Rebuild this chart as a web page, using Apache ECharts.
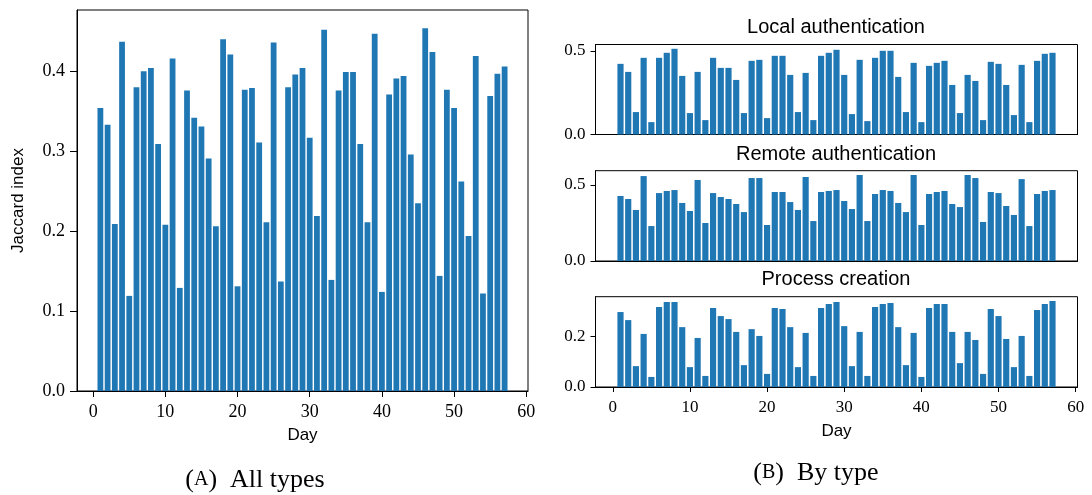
<!DOCTYPE html>
<html>
<head>
<meta charset="utf-8">
<script src="https://cdn.jsdelivr.net/npm/echarts@6/dist/echarts.min.js"></script>
<style>
    html, body {margin: 0; padding: 0; background: #fff;}
    #chart {width: 1092px; height: 495px;}
</style>
</head>
<body>
<div id="chart"></div>
<script>
'use strict';

// 天数
let days = [1, 2, 3, 4, 5, 6, 7, 8, 9, 10, 11, 12, 13, 14, 15, 16, 17, 18, 19, 20,
    21, 22, 23, 24, 25, 26, 27, 28, 29, 30, 31, 32, 33, 34, 35, 36, 37, 38, 39, 40,
    41, 42, 43, 44, 45, 46, 47, 48, 49, 50, 51, 52, 53, 54, 55, 56, 57];

// (A) 全部类型
let allTypes = [0.354, 0.333, 0.209, 0.437, 0.119, 0.380, 0.400, 0.404, 0.309, 0.208,
    0.416, 0.129, 0.376, 0.342, 0.331, 0.291, 0.206, 0.440, 0.421, 0.131,
    0.377, 0.379, 0.311, 0.211, 0.436, 0.137, 0.380, 0.396, 0.404, 0.317,
    0.219, 0.452, 0.139, 0.376, 0.399, 0.399, 0.309, 0.211, 0.447, 0.124,
    0.371, 0.391, 0.394, 0.296, 0.235, 0.454, 0.424, 0.144, 0.377, 0.354,
    0.262, 0.194, 0.419, 0.122, 0.369, 0.397, 0.406];

// (B) 分类型
let localAuth = [0.422, 0.374, 0.134, 0.458, 0.074, 0.458, 0.488, 0.512, 0.350, 0.128,
    0.374, 0.086, 0.458, 0.398, 0.398, 0.326, 0.128, 0.440, 0.446, 0.098,
    0.470, 0.470, 0.356, 0.134, 0.368, 0.086, 0.470, 0.488, 0.506, 0.356,
    0.122, 0.446, 0.080, 0.458, 0.500, 0.500, 0.344, 0.134, 0.428, 0.074,
    0.410, 0.428, 0.440, 0.296, 0.128, 0.356, 0.320, 0.086, 0.434, 0.422,
    0.296, 0.116, 0.416, 0.074, 0.440, 0.482, 0.488];

let remoteAuth = [0.428, 0.408, 0.336, 0.559, 0.230, 0.447, 0.461, 0.467, 0.382, 0.329,
    0.533, 0.250, 0.447, 0.421, 0.408, 0.375, 0.322, 0.546, 0.546, 0.237,
    0.454, 0.454, 0.388, 0.336, 0.553, 0.263, 0.454, 0.461, 0.467, 0.395,
    0.342, 0.566, 0.263, 0.441, 0.467, 0.461, 0.382, 0.322, 0.566, 0.237,
    0.441, 0.454, 0.461, 0.375, 0.355, 0.566, 0.546, 0.257, 0.454, 0.447,
    0.362, 0.303, 0.539, 0.230, 0.441, 0.461, 0.467];

let processCreation = [0.298, 0.266, 0.083, 0.211, 0.040, 0.318, 0.338, 0.338, 0.238, 0.079,
    0.195, 0.044, 0.314, 0.282, 0.270, 0.219, 0.087, 0.230, 0.203, 0.052,
    0.314, 0.310, 0.238, 0.079, 0.215, 0.044, 0.314, 0.330, 0.338, 0.242,
    0.083, 0.219, 0.044, 0.318, 0.330, 0.334, 0.238, 0.087, 0.215, 0.040,
    0.314, 0.330, 0.330, 0.219, 0.095, 0.219, 0.187, 0.052, 0.310, 0.282,
    0.191, 0.079, 0.203, 0.044, 0.306, 0.330, 0.342];

// 刻度
let dayTicks = [0, 10, 20, 30, 40, 50, 60];
let allTicks = [0, 0.1, 0.2, 0.3, 0.4];
let authTicks = [0, 0.5];
let procTicks = [0, 0.2];

let subTitles = ['Local authentication', 'Remote authentication', 'Process creation'];

const BLUE = '#1f77b4';
const SERIF = 'Liberation Serif';
const SANS = 'Liberation Sans';

function pairs(values) {
    return days.map((d, i) => [d, values[i]]);
}

function xAxisOf(gridIndex, showLabel, tickLen, fontSize) {
    return {
        type: 'value',
        gridIndex: gridIndex,
        min: -2.24,
        max: 60.24,
        splitLine: {show: false},
        axisLine: {show: true, onZero: false, lineStyle: {color: '#000', width: 1}},
        axisTick: {show: showLabel, length: tickLen, customValues: dayTicks, lineStyle: {color: '#000'}},
        axisLabel: {
            show: showLabel, customValues: dayTicks, margin: 12,
            fontFamily: SERIF, fontSize: fontSize, color: '#000'
        },
        name: showLabel ? 'Day' : '',
        nameLocation: 'middle',
        nameGap: 36,
        nameTextStyle: {fontFamily: SANS, fontSize: 17, color: '#000'}
    };
}

function yAxisOf(gridIndex, max, ticks, tickLen, fontSize, name) {
    return {
        type: 'value',
        gridIndex: gridIndex,
        min: 0,
        max: max,
        splitLine: {show: false},
        axisLine: {show: true, onZero: false, lineStyle: {color: '#000', width: 1}},
        axisTick: {show: true, length: tickLen, customValues: ticks, lineStyle: {color: '#000'}},
        axisLabel: {
            customValues: ticks, margin: tickLen + 5,
            formatter: v => v.toFixed(1),
            fontFamily: SERIF, fontSize: fontSize, color: '#000'
        },
        name: name || '',
        nameLocation: 'middle',
        nameGap: 50,
        nameTextStyle: {fontFamily: SANS, fontSize: 17, color: '#000'}
    };
}

function barOf(idx, values) {
    return {
        type: 'bar',
        xAxisIndex: idx,
        yAxisIndex: idx,
        data: pairs(values),
        barWidth: '80%',
        itemStyle: {color: BLUE},
        silent: true
    };
}

function textOf(x, y, text, font, rich) {
    return {
        type: 'text',
        x: x,
        y: y,
        style: {
            text: text,
            font: font,
            fill: '#000',
            align: 'center',
            verticalAlign: 'middle',
            textAlign: 'center',
            textVerticalAlign: 'middle',
            rich: rich
        }
    };
}

let gridBox = {show: true, borderColor: '#000', borderWidth: 1, backgroundColor: 'transparent'};

let option = {
    animation: false,
    backgroundColor: '#fff',
    grid: [
        Object.assign({left: 77, top: 10, width: 451, height: 381}, gridBox),
        Object.assign({left: 595.5, top: 44.5, width: 482, height: 90}, gridBox),
        Object.assign({left: 595.5, top: 170.7, width: 482, height: 90.3}, gridBox),
        Object.assign({left: 595.5, top: 296.7, width: 482, height: 90.3}, gridBox)
    ],
    xAxis: [
        xAxisOf(0, true, 6, 18),
        xAxisOf(1, false, 5, 17),
        xAxisOf(2, false, 5, 17),
        xAxisOf(3, true, 5, 17)
    ],
    yAxis: [
        yAxisOf(0, 0.4767, allTicks, 7, 18, 'Jaccard index'),
        yAxisOf(1, 0.5376, authTicks, 5, 17),
        yAxisOf(2, 0.5943, authTicks, 5, 17),
        yAxisOf(3, 0.359, procTicks, 5, 17)
    ],
    series: [
        barOf(0, allTypes),
        barOf(1, localAuth),
        barOf(2, remoteAuth),
        barOf(3, processCreation)
    ],
    graphic: [
        textOf(836, 27, subTitles[0], '20px "' + SANS + '"'),
        textOf(836, 154, subTitles[1], '20px "' + SANS + '"'),
        textOf(836, 279, subTitles[2], '20px "' + SANS + '"'),
        textOf(255, 480, '({sc|A})  All types', '26px "' + SERIF + '"', {sc: {fontSize: 20, fontFamily: SERIF}}),
        textOf(816, 473, '({sc|B})  By type', '26px "' + SERIF + '"', {sc: {fontSize: 20, fontFamily: SERIF}})
    ]
};

let myChart = echarts.init(document.getElementById('chart'));
myChart.setOption(option);
</script>
</body>
</html>
